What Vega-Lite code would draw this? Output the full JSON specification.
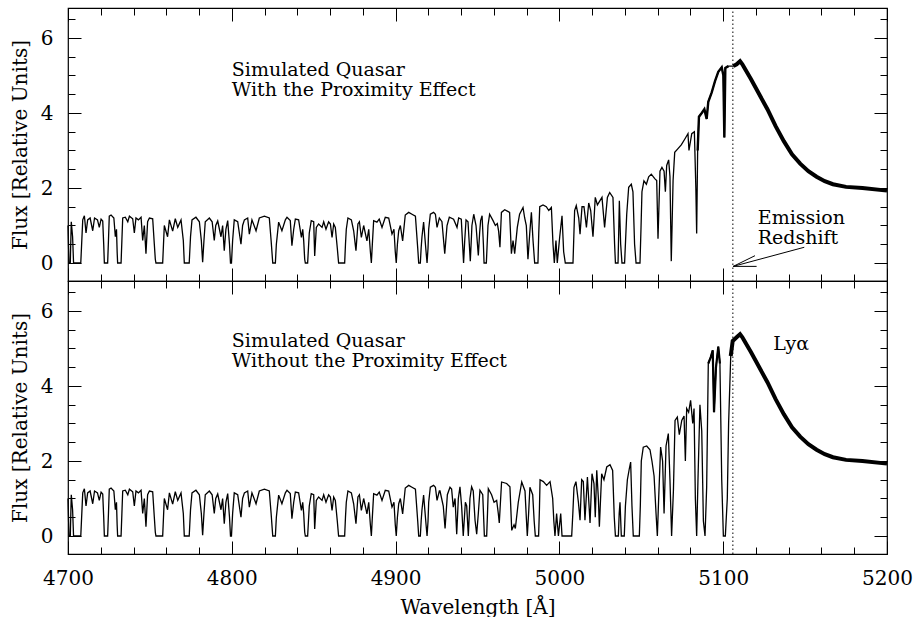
{
"$schema": "https://vega.github.io/schema/vega-lite/v6.json",
"autosize": "none",
"padding": {"left": 68, "top": 8, "right": 847, "bottom": 609},
"background": "white",
"bounds": "flush",
"spacing": 0,
"config": {
 "view": {"stroke": "black", "strokeWidth": 1.2},
 "axis": {"domain": false, "grid": false, "tickColor": "black", "tickWidth": 1, "labelFont": "DejaVu Serif", "labelFontSize": 20, "labelColor": "black", "titleFont": "DejaVu Serif", "titleFontSize": 20, "titleFontWeight": "normal", "titleColor": "black", "labelFlush": false, "labelOverlap": false},
 "text": {"font": "DejaVu Serif", "color": "black"}
},
"datasets": {
 "spec": [
{"p":"s","w":4700.0,"f":1.0},{"p":"s","w":4700.6,"f":0},{"p":"s","w":4701.4,"f":0},{"p":"s","w":4702.0,"f":1.1},{"p":"s","w":4702.8,"f":0.7},{"p":"s","w":4703.4,"f":0},{"p":"s","w":4707.8,"f":0},{"p":"s","w":4709.0,"f":1.15},{"p":"s","w":4710.0,"f":1.26},{"p":"s","w":4711.0,"f":0.8},{"p":"s","w":4712.0,"f":1.15},{"p":"s","w":4713.5,"f":1.2},{"p":"s","w":4715.1,"f":0.86},{"p":"s","w":4716.2,"f":1.2},{"p":"s","w":4718.0,"f":1.15},{"p":"s","w":4719.1,"f":0.95},{"p":"s","w":4720.2,"f":1.17},{"p":"s","w":4721.2,"f":1.12},{"p":"s","w":4721.8,"f":0.5},{"p":"s","w":4722.2,"f":0},{"p":"s","w":4724.2,"f":0},{"p":"s","w":4724.7,"f":0.6},{"p":"s","w":4725.2,"f":1.25},{"p":"s","w":4726.3,"f":1.28},{"p":"s","w":4728.0,"f":1.2},{"p":"s","w":4728.9,"f":0.7},{"p":"s","w":4729.6,"f":0.9},{"p":"s","w":4730.0,"f":0.3},{"p":"s","w":4730.3,"f":0},{"p":"s","w":4732.4,"f":0},{"p":"s","w":4732.9,"f":0.6},{"p":"s","w":4733.4,"f":1.2},{"p":"s","w":4735.0,"f":1.22},{"p":"s","w":4736.5,"f":1.1},{"p":"s","w":4737.5,"f":1.25},{"p":"s","w":4739.5,"f":1.18},{"p":"s","w":4740.5,"f":0.8},{"p":"s","w":4741.5,"f":1.2},{"p":"s","w":4743.0,"f":1.15},{"p":"s","w":4744.6,"f":1.22},{"p":"s","w":4745.6,"f":0.6},{"p":"s","w":4746.6,"f":1.0},{"p":"s","w":4747.6,"f":0.25},{"p":"s","w":4748.6,"f":1.1},{"p":"s","w":4749.7,"f":1.2},{"p":"s","w":4751.7,"f":1.18},{"p":"s","w":4752.7,"f":0.5},{"p":"s","w":4753.3,"f":0.1},{"p":"s","w":4753.7,"f":0},{"p":"s","w":4757.8,"f":0},{"p":"s","w":4758.3,"f":0.5},{"p":"s","w":4758.8,"f":1.0},{"p":"s","w":4760.8,"f":0.7},{"p":"s","w":4761.9,"f":1.15},{"p":"s","w":4763.9,"f":0.85},{"p":"s","w":4765.5,"f":1.18},{"p":"s","w":4767.0,"f":0.95},{"p":"s","w":4769.0,"f":1.15},{"p":"s","w":4770.4,"f":0.6},{"p":"s","w":4771.0,"f":0},{"p":"s","w":4774.0,"f":0},{"p":"s","w":4774.8,"f":0.7},{"p":"s","w":4775.7,"f":1.15},{"p":"s","w":4778.1,"f":1.22},{"p":"s","w":4780.2,"f":1.1},{"p":"s","w":4781.4,"f":0.6},{"p":"s","w":4782.2,"f":0.02},{"p":"s","w":4783.0,"f":0.6},{"p":"s","w":4783.8,"f":1.1},{"p":"s","w":4786.3,"f":1.2},{"p":"s","w":4788.0,"f":1.1},{"p":"s","w":4789.3,"f":0.6},{"p":"s","w":4790.2,"f":1.0},{"p":"s","w":4791.4,"f":1.12},{"p":"s","w":4793.4,"f":0.7},{"p":"s","w":4794.4,"f":1.0},{"p":"s","w":4795.4,"f":0.33},{"p":"s","w":4796.4,"f":0.9},{"p":"s","w":4797.5,"f":1.13},{"p":"s","w":4798.6,"f":0.5},{"p":"s","w":4799.2,"f":0},{"p":"s","w":4799.8,"f":0},{"p":"s","w":4800.5,"f":0.6},{"p":"s","w":4801.5,"f":1.15},{"p":"s","w":4803.6,"f":1.1},{"p":"s","w":4805.6,"f":0.5},{"p":"s","w":4806.6,"f":1.0},{"p":"s","w":4807.7,"f":1.15},{"p":"s","w":4809.7,"f":1.2},{"p":"s","w":4810.7,"f":0.77},{"p":"s","w":4812.3,"f":1.15},{"p":"s","w":4814.8,"f":0.86},{"p":"s","w":4816.8,"f":1.2},{"p":"s","w":4819.9,"f":1.25},{"p":"s","w":4822.9,"f":1.2},{"p":"s","w":4824.0,"f":0.6},{"p":"s","w":4825.0,"f":0},{"p":"s","w":4826.6,"f":0},{"p":"s","w":4827.2,"f":0.5},{"p":"s","w":4828.6,"f":1.09},{"p":"s","w":4830.6,"f":0.86},{"p":"s","w":4832.7,"f":1.15},{"p":"s","w":4833.7,"f":1.22},{"p":"s","w":4835.7,"f":1.13},{"p":"s","w":4836.7,"f":0.46},{"p":"s","w":4837.8,"f":0.9},{"p":"s","w":4838.8,"f":1.17},{"p":"s","w":4840.8,"f":1.15},{"p":"s","w":4842.5,"f":0.68},{"p":"s","w":4843.3,"f":0.9},{"p":"s","w":4843.9,"f":0.59},{"p":"s","w":4844.5,"f":0.1},{"p":"s","w":4844.9,"f":0},{"p":"s","w":4846.3,"f":0},{"p":"s","w":4846.8,"f":0.4},{"p":"s","w":4847.3,"f":0.8},{"p":"s","w":4848.5,"f":1.13},{"p":"s","w":4850.0,"f":1.1},{"p":"s","w":4850.6,"f":0.19},{"p":"s","w":4851.6,"f":0.95},{"p":"s","w":4853.0,"f":1.04},{"p":"s","w":4855.1,"f":0.95},{"p":"s","w":4856.1,"f":1.1},{"p":"s","w":4857.5,"f":0.9},{"p":"s","w":4859.1,"f":1.1},{"p":"s","w":4860.2,"f":1.04},{"p":"s","w":4861.2,"f":0.68},{"p":"s","w":4862.2,"f":1.04},{"p":"s","w":4863.2,"f":0.95},{"p":"s","w":4864.4,"f":0.4},{"p":"s","w":4865.2,"f":0},{"p":"s","w":4868.9,"f":0},{"p":"s","w":4869.4,"f":0.5},{"p":"s","w":4869.9,"f":0.9},{"p":"s","w":4870.9,"f":1.2},{"p":"s","w":4873.0,"f":1.15},{"p":"s","w":4874.4,"f":0.86},{"p":"s","w":4875.8,"f":0.33},{"p":"s","w":4877.0,"f":1.04},{"p":"s","w":4877.9,"f":1.1},{"p":"s","w":4879.1,"f":0.68},{"p":"s","w":4880.5,"f":1.0},{"p":"s","w":4882.5,"f":0.59},{"p":"s","w":4883.6,"f":0.9},{"p":"s","w":4884.6,"f":0.3},{"p":"s","w":4885.2,"f":0},{"p":"s","w":4885.8,"f":0.5},{"p":"s","w":4886.6,"f":1.13},{"p":"s","w":4888.6,"f":1.09},{"p":"s","w":4890.0,"f":1.17},{"p":"s","w":4891.7,"f":0.95},{"p":"s","w":4893.7,"f":1.22},{"p":"s","w":4895.8,"f":1.2},{"p":"s","w":4897.8,"f":0.77},{"p":"s","w":4899.0,"f":0.9},{"p":"s","w":4899.8,"f":0.3},{"p":"s","w":4900.4,"f":0},{"p":"s","w":4901.1,"f":0.5},{"p":"s","w":4901.9,"f":0.86},{"p":"s","w":4902.9,"f":1.0},{"p":"s","w":4904.3,"f":0.59},{"p":"s","w":4905.9,"f":1.28},{"p":"s","w":4908.0,"f":1.35},{"p":"s","w":4910.0,"f":1.3},{"p":"s","w":4912.1,"f":1.25},{"p":"s","w":4913.5,"f":0.4},{"p":"s","w":4914.1,"f":0},{"p":"s","w":4915.1,"f":0},{"p":"s","w":4915.6,"f":0.4},{"p":"s","w":4916.1,"f":0.7},{"p":"s","w":4917.1,"f":1.09},{"p":"s","w":4918.6,"f":0.3},{"p":"s","w":4919.2,"f":0},{"p":"s","w":4919.8,"f":0.4},{"p":"s","w":4920.2,"f":0.9},{"p":"s","w":4921.2,"f":1.3},{"p":"s","w":4923.2,"f":1.35},{"p":"s","w":4924.3,"f":1.3},{"p":"s","w":4925.3,"f":0.95},{"p":"s","w":4926.7,"f":1.2},
{"p":"a","w":4928.3,"f":1.1},{"p":"a","w":4930.0,"f":0.25},{"p":"a","w":4931.4,"f":1.0},{"p":"a","w":4932.8,"f":1.22},{"p":"a","w":4935.4,"f":1.17},{"p":"a","w":4937.5,"f":0.95},{"p":"a","w":4938.5,"f":1.2},{"p":"a","w":4940.1,"f":1.17},{"p":"a","w":4940.9,"f":0.5},{"p":"a","w":4941.5,"f":0},{"p":"a","w":4942.2,"f":0.6},{"p":"a","w":4943.0,"f":1.15},{"p":"a","w":4944.2,"f":1.1},{"p":"a","w":4945.0,"f":0.5},{"p":"a","w":4945.6,"f":0.05},{"p":"a","w":4946.2,"f":0.6},{"p":"a","w":4946.6,"f":1.0},{"p":"a","w":4947.7,"f":1.3},{"p":"a","w":4949.1,"f":1.0},{"p":"a","w":4950.5,"f":0.2},{"p":"a","w":4951.3,"f":0.8},{"p":"a","w":4951.9,"f":1.13},{"p":"a","w":4952.8,"f":1.26},{"p":"a","w":4953.6,"f":0.5},{"p":"a","w":4954.0,"f":0},{"p":"a","w":4955.4,"f":0},{"p":"a","w":4955.9,"f":0.5},{"p":"a","w":4956.4,"f":1.0},{"p":"a","w":4957.4,"f":1.3},{"p":"a","w":4959.5,"f":1.13},{"p":"a","w":4960.9,"f":1.0},{"p":"a","w":4962.1,"f":1.05},{"p":"a","w":4962.9,"f":0.85},{"p":"a","w":4963.7,"f":0.42},{"p":"a","w":4964.6,"f":1.35},{"p":"a","w":4966.6,"f":1.42},{"p":"a","w":4969.6,"f":1.35},{"p":"a","w":4970.7,"f":0.25},{"p":"a","w":4971.7,"f":0.6},{"p":"a","w":4972.7,"f":0.25},{"p":"a","w":4974.3,"f":0.95},{"p":"a","w":4975.7,"f":1.3},{"p":"a","w":4977.8,"f":1.48},{"p":"a","w":4978.8,"f":1.2},{"p":"a","w":4979.8,"f":1.0},{"p":"a","w":4980.8,"f":0.1},{"p":"a","w":4981.9,"f":0.8},{"p":"a","w":4982.9,"f":1.35},{"p":"a","w":4983.9,"f":0.6},{"p":"a","w":4984.9,"f":0},{"p":"a","w":4986.9,"f":0},{"p":"a","w":4987.4,"f":0.8},{"p":"a","w":4988.0,"f":1.5},{"p":"a","w":4990.0,"f":1.55},{"p":"a","w":4992.0,"f":1.5},{"p":"a","w":4993.5,"f":1.4},{"p":"a","w":4995.1,"f":1.48},{"p":"a","w":4996.1,"f":0.5},{"p":"a","w":4996.9,"f":0},{"p":"a","w":4997.9,"f":0.6},{"p":"a","w":4998.7,"f":0},{"p":"a","w":5000.2,"f":0.7},{"p":"a","w":5001.6,"f":1.26},{"p":"a","w":5002.6,"f":0.3},{"p":"a","w":5003.6,"f":0},{"p":"a","w":5008.3,"f":0},{"p":"a","w":5008.8,"f":0.7},{"p":"a","w":5009.3,"f":1.4},{"p":"a","w":5010.3,"f":1.53},{"p":"a","w":5011.8,"f":1.2},{"p":"a","w":5012.6,"f":0.77},{"p":"a","w":5013.8,"f":1.5},{"p":"a","w":5015.0,"f":1.5},{"p":"a","w":5016.5,"f":0.95},{"p":"a","w":5017.9,"f":1.6},{"p":"a","w":5019.1,"f":1.4},{"p":"a","w":5020.5,"f":0.7},{"p":"a","w":5021.9,"f":1.75},{"p":"a","w":5023.2,"f":1.55},{"p":"a","w":5024.6,"f":1.65},{"p":"a","w":5026.0,"f":1.75},{"p":"a","w":5027.6,"f":0.95},{"p":"a","w":5029.3,"f":1.75},{"p":"a","w":5030.7,"f":1.88},{"p":"a","w":5032.7,"f":1.75},{"p":"a","w":5033.7,"f":0.5},{"p":"a","w":5034.2,"f":0},{"p":"a","w":5035.8,"f":0},{"p":"a","w":5036.2,"f":0.8},{"p":"a","w":5036.6,"f":1.66},{"p":"a","w":5037.4,"f":0.5},{"p":"a","w":5038.2,"f":0},{"p":"a","w":5039.8,"f":0},{"p":"a","w":5040.4,"f":0.6},{"p":"a","w":5041.1,"f":1.3},{"p":"a","w":5042.3,"f":2.02},{"p":"a","w":5043.9,"f":2.1},{"p":"a","w":5044.9,"f":1.9},{"p":"a","w":5045.9,"f":0.5},{"p":"a","w":5046.8,"f":0},{"p":"a","w":5049.2,"f":0},{"p":"a","w":5049.8,"f":0.9},{"p":"a","w":5050.4,"f":1.9},{"p":"a","w":5051.6,"f":2.19},{"p":"a","w":5053.1,"f":2.1},{"p":"a","w":5054.5,"f":2.3},{"p":"a","w":5056.1,"f":2.37},{"p":"a","w":5058.2,"f":2.25},{"p":"a","w":5059.4,"f":2.2},{"p":"a","w":5060.2,"f":0.65},{"p":"a","w":5061.4,"f":2.45},{"p":"a","w":5062.6,"f":2.55},{"p":"a","w":5063.9,"f":2.45},{"p":"a","w":5064.7,"f":1.9},{"p":"a","w":5065.5,"f":2.6},{"p":"a","w":5066.7,"f":2.75},{"p":"a","w":5067.5,"f":2.3},{"p":"a","w":5068.3,"f":0.05},{"p":"a","w":5069.4,"f":2.2},{"p":"a","w":5070.4,"f":2.95},{"p":"a","w":5072.4,"f":3.05},{"p":"a","w":5074.4,"f":3.15},{"p":"a","w":5076.5,"f":3.3},{"p":"a","w":5078.5,"f":3.45},{"p":"a","w":5079.1,"f":3.0},{"p":"a","w":5080.8,"f":3.45},{"p":"a","w":5082.4,"f":3.5},{"p":"a","w":5083.3,"f":2.0},{"p":"a","w":5083.8,"f":0.79},{"p":"a","w":5084.4,"f":3.0},{"p":"a","w":5085.2,"f":3.9},{"p":"a","w":5086.9,"f":4.0},{"p":"a","w":5088.5,"f":4.1},{"p":"a","w":5089.9,"f":3.84},{"p":"a","w":5090.9,"f":4.3},{"p":"a","w":5093.0,"f":4.55},{"p":"a","w":5095.0,"f":4.85},{"p":"a","w":5097.0,"f":5.1},{"p":"a","w":5099.1,"f":5.22},{"p":"a","w":5100.1,"f":5.0},{"p":"a","w":5100.7,"f":3.35},{"p":"a","w":5101.3,"f":5.2},{"p":"a","w":5103.2,"f":5.25},{"p":"a","w":5106.2,"f":5.25},{"p":"a","w":5108.2,"f":5.3},{"p":"a","w":5110.3,"f":5.38},{"p":"a","w":5111.7,"f":5.3},
{"p":"b","w":4927.1,"f":1.2},{"p":"b","w":4928.1,"f":1.0},{"p":"b","w":4929.1,"f":0.8},{"p":"b","w":4930.2,"f":0.2},{"p":"b","w":4931.6,"f":1.1},{"p":"b","w":4933.2,"f":1.3},{"p":"b","w":4934.2,"f":1.25},{"p":"b","w":4935.2,"f":0.77},{"p":"b","w":4936.3,"f":1.0},{"p":"b","w":4937.3,"f":0.05},{"p":"b","w":4938.3,"f":1.0},{"p":"b","w":4939.3,"f":1.31},{"p":"b","w":4940.3,"f":0.8},{"p":"b","w":4941.3,"f":0},{"p":"b","w":4942.6,"f":0.9},{"p":"b","w":4943.4,"f":0.8},{"p":"b","w":4944.4,"f":0},{"p":"b","w":4945.4,"f":1.0},{"p":"b","w":4946.4,"f":1.31},{"p":"b","w":4947.4,"f":1.2},{"p":"b","w":4948.5,"f":0.42},{"p":"b","w":4949.5,"f":0.05},{"p":"b","w":4950.5,"f":0.6},{"p":"b","w":4951.5,"f":1.22},{"p":"b","w":4953.2,"f":1.1},{"p":"b","w":4954.2,"f":0},{"p":"b","w":4955.6,"f":0},{"p":"b","w":4956.1,"f":0.6},{"p":"b","w":4956.6,"f":1.26},{"p":"b","w":4958.6,"f":1.1},{"p":"b","w":4960.1,"f":0.9},{"p":"b","w":4961.7,"f":0.95},{"p":"b","w":4962.7,"f":0.6},{"p":"b","w":4963.3,"f":0.35},{"p":"b","w":4964.7,"f":1.44},{"p":"b","w":4967.8,"f":1.4},{"p":"b","w":4969.8,"f":1.31},{"p":"b","w":4970.9,"f":0.15},{"p":"b","w":4972.3,"f":0.3},{"p":"b","w":4973.1,"f":0.2},{"p":"b","w":4974.9,"f":0.9},{"p":"b","w":4977.0,"f":1.44},{"p":"b","w":4979.0,"f":1.2},{"p":"b","w":4979.8,"f":0.5},{"p":"b","w":4980.4,"f":0},{"p":"b","w":4981.2,"f":0.6},{"p":"b","w":4982.0,"f":1.3},{"p":"b","w":4983.7,"f":1.1},{"p":"b","w":4984.6,"f":0.4},{"p":"b","w":4985.3,"f":0},{"p":"b","w":4987.3,"f":0},{"p":"b","w":4987.8,"f":0.7},{"p":"b","w":4988.2,"f":1.5},{"p":"b","w":4990.2,"f":1.45},{"p":"b","w":4992.2,"f":1.35},{"p":"b","w":4994.3,"f":1.45},{"p":"b","w":4995.9,"f":1.0},{"p":"b","w":4996.6,"f":0.4},{"p":"b","w":4997.3,"f":0},{"p":"b","w":4998.3,"f":0.6},{"p":"b","w":4999.4,"f":0},{"p":"b","w":5000.8,"f":0.6},{"p":"b","w":5001.6,"f":0},{"p":"b","w":5007.5,"f":0},{"p":"b","w":5008.2,"f":0.6},{"p":"b","w":5008.9,"f":1.3},{"p":"b","w":5010.1,"f":1.45},{"p":"b","w":5011.6,"f":0.9},{"p":"b","w":5012.6,"f":0.42},{"p":"b","w":5013.6,"f":1.5},{"p":"b","w":5014.6,"f":1.45},{"p":"b","w":5015.6,"f":0.42},{"p":"b","w":5017.1,"f":1.57},{"p":"b","w":5018.7,"f":0.35},{"p":"b","w":5019.9,"f":1.66},{"p":"b","w":5021.1,"f":1.4},{"p":"b","w":5021.9,"f":0.5},{"p":"b","w":5022.8,"f":1.75},{"p":"b","w":5023.8,"f":1.0},{"p":"b","w":5024.4,"f":0.25},{"p":"b","w":5025.8,"f":1.66},{"p":"b","w":5027.2,"f":1.5},{"p":"b","w":5028.9,"f":1.84},{"p":"b","w":5030.9,"f":1.9},{"p":"b","w":5032.5,"f":1.75},{"p":"b","w":5033.5,"f":0.5},{"p":"b","w":5034.2,"f":0},{"p":"b","w":5036.0,"f":0},{"p":"b","w":5036.5,"f":0.6},{"p":"b","w":5037.0,"f":0.9},{"p":"b","w":5037.8,"f":0},{"p":"b","w":5039.6,"f":0},{"p":"b","w":5040.3,"f":0.8},{"p":"b","w":5041.5,"f":1.5},{"p":"b","w":5042.7,"f":1.8},{"p":"b","w":5043.5,"f":1.97},{"p":"b","w":5044.3,"f":0.8},{"p":"b","w":5045.1,"f":0},{"p":"b","w":5048.8,"f":0},{"p":"b","w":5049.4,"f":0.8},{"p":"b","w":5050.0,"f":2.0},{"p":"b","w":5051.2,"f":2.37},{"p":"b","w":5053.3,"f":2.4},{"p":"b","w":5055.3,"f":2.3},{"p":"b","w":5056.5,"f":2.0},{"p":"b","w":5057.8,"f":1.6},{"p":"b","w":5059.0,"f":0.6},{"p":"b","w":5059.8,"f":0},{"p":"b","w":5060.6,"f":1.0},{"p":"b","w":5061.8,"f":2.37},{"p":"b","w":5063.0,"f":2.0},{"p":"b","w":5063.9,"f":0.6},{"p":"b","w":5065.1,"f":2.4},{"p":"b","w":5066.5,"f":2.73},{"p":"b","w":5067.5,"f":1.5},{"p":"b","w":5068.5,"f":0},{"p":"b","w":5069.6,"f":1.2},{"p":"b","w":5070.6,"f":3.08},{"p":"b","w":5072.0,"f":3.17},{"p":"b","w":5073.2,"f":2.7},{"p":"b","w":5074.7,"f":3.08},{"p":"b","w":5076.1,"f":3.2},{"p":"b","w":5076.9,"f":2.0},{"p":"b","w":5077.7,"f":3.4},{"p":"b","w":5078.9,"f":3.3},{"p":"b","w":5080.1,"f":3.62},{"p":"b","w":5081.4,"f":3.0},{"p":"b","w":5082.2,"f":3.4},{"p":"b","w":5083.0,"f":1.0},{"p":"b","w":5083.8,"f":0},{"p":"b","w":5084.6,"f":1.5},{"p":"b","w":5085.8,"f":3.5},{"p":"b","w":5086.9,"f":2.8},{"p":"b","w":5087.9,"f":0.4},{"p":"b","w":5088.9,"f":0},{"p":"b","w":5089.9,"f":1.3},{"p":"b","w":5090.9,"f":4.6},{"p":"b","w":5092.4,"f":4.77},{"p":"b","w":5093.6,"f":4.95},{"p":"b","w":5094.4,"f":3.3},{"p":"b","w":5095.6,"f":4.5},{"p":"b","w":5097.0,"f":5.05},{"p":"b","w":5098.0,"f":4.6},{"p":"b","w":5099.1,"f":1.5},{"p":"b","w":5100.1,"f":0},{"p":"b","w":5101.3,"f":0},{"p":"b","w":5102.5,"f":1.0},{"p":"b","w":5103.3,"f":3.0},{"p":"b","w":5104.6,"f":4.8},{"p":"b","w":5105.8,"f":5.2},{"p":"b","w":5108.2,"f":5.3},{"p":"b","w":5110.3,"f":5.38},{"p":"b","w":5111.7,"f":5.3},
{"p":"s","w":5113.0,"f":5.2},{"p":"s","w":5117.0,"f":4.9},{"p":"s","w":5122.0,"f":4.5},{"p":"s","w":5127.0,"f":4.1},{"p":"s","w":5132.0,"f":3.65},{"p":"s","w":5137.0,"f":3.25},{"p":"s","w":5142.0,"f":2.9},{"p":"s","w":5147.0,"f":2.65},{"p":"s","w":5152.0,"f":2.45},{"p":"s","w":5157.0,"f":2.3},{"p":"s","w":5162.0,"f":2.18},{"p":"s","w":5167.0,"f":2.1},{"p":"s","w":5175.0,"f":2.03},{"p":"s","w":5185.0,"f":2.0},{"p":"s","w":5200.0,"f":1.93}
 ],
 "ann": [
  {"p":"a","w":4800,"f":4.99,"t":"Simulated Quasar"},
  {"p":"a","w":4800,"f":4.46,"t":"With the Proximity Effect"},
  {"p":"a","w":5121.1,"f":1.03,"t":"Emission"},
  {"p":"a","w":5121.1,"f":0.5,"t":"Redshift"},
  {"p":"b","w":4800,"f":5.03,"t":"Simulated Quasar"},
  {"p":"b","w":4800,"f":4.5,"t":"Without the Proximity Effect"},
  {"p":"b","w":5130.6,"f":4.96,"t":"Lyα"}
 ],
 "arrow": [
  {"w":5149.5,"f":0.42,"w2":5106.1,"f2":-0.09},
  {"w":5106.1,"f":-0.09,"w2":5119.4,"f2":0.195},
  {"w":5106.1,"f":-0.09,"w2":5120.4,"f2":-0.09}
 ],
 "vline": [{"w":5105.9,"lo":-0.48,"hi":6.8}]
},
"vconcat": [
 {
  "width": 819, "height": 273,
  "resolve": {"axis": {"x": "independent", "y": "independent"}},
  "layer": [
   {
    "data": {"name": "spec"},
    "transform": [{"filter": "datum.p != 'b'"}],
    "mark": {"type": "line", "color": "black", "strokeWidth": 1.3},
    "encoding": {
     "x": {"field": "w", "type": "quantitative", "scale": {"domain": [4700, 5200], "nice": false, "zero": false},
           "axis": {"orient": "bottom", "values": [4700,4800,4900,5000,5100,5200], "tickSize": -13, "labels": false, "title": null}},
     "y": {"field": "f", "type": "quantitative", "scale": {"domain": [-0.48, 6.8], "nice": false, "zero": false},
           "axis": {"orient": "left", "values": [0,2,4,6], "tickSize": -13, "labelPadding": 28, "format": "d", "title": "Flux [Relative Units]", "titlePadding": 10}}
    }
   },
   {
    "data": {"name": "spec"},
    "transform": [{"filter": "datum.p != 'b' && datum.w >= 5104"}],
    "mark": {"type": "line", "color": "black", "strokeWidth": 4},
    "encoding": {
     "x": {"field": "w", "type": "quantitative", "scale": {"domain": [4700, 5200], "nice": false, "zero": false},
           "axis": {"orient": "top", "values": [4700,4800,4900,5000,5100,5200], "tickSize": -13, "labels": false, "title": null}},
     "y": {"field": "f", "type": "quantitative", "scale": {"domain": [-0.48, 6.8], "nice": false, "zero": false},
           "axis": {"orient": "right", "values": [0,2,4,6], "tickSize": -13, "labels": false, "title": null}}
    }
   },
   {
    "data": {"name": "spec"},
    "transform": [{"filter": "datum.p != 'b' && datum.w >= 5084.4 && datum.w <= 5104"}],
    "mark": {"type": "line", "color": "black", "strokeWidth": 2.4},
    "encoding": {
     "x": {"field": "w", "type": "quantitative", "scale": {"domain": [4700, 5200], "nice": false, "zero": false}, "axis": null},
     "y": {"field": "f", "type": "quantitative", "scale": {"domain": [-0.48, 6.8], "nice": false, "zero": false}, "axis": null}
    }
   },
   {
    "data": {"name": "ann"},
    "transform": [{"filter": "datum.p == 'a'"}],
    "mark": {"type": "text", "align": "left", "baseline": "alphabetic", "fontSize": 19, "color": "black"},
    "encoding": {
     "x": {"field": "w", "type": "quantitative", "scale": {"domain": [4700, 5200], "nice": false, "zero": false},
           "axis": {"orient": "bottom", "values": [4700,4720,4740,4760,4780,4800,4820,4840,4860,4880,4900,4920,4940,4960,4980,5000,5020,5040,5060,5080,5100,5120,5140,5160,5180,5200], "tickSize": -7, "labels": false, "title": null}},
     "y": {"field": "f", "type": "quantitative", "scale": {"domain": [-0.48, 6.8], "nice": false, "zero": false},
           "axis": {"orient": "left", "values": [0,0.5,1,1.5,2,2.5,3,3.5,4,4.5,5,5.5,6,6.5], "tickSize": -7, "labels": false, "title": null}},
     "text": {"field": "t"}
    }
   },
   {
    "data": {"name": "vline"},
    "mark": {"type": "rule", "color": "black", "strokeWidth": 1, "strokeDash": [1.5, 2.5]},
    "encoding": {
     "x": {"field": "w", "type": "quantitative", "scale": {"domain": [4700, 5200], "nice": false, "zero": false},
           "axis": {"orient": "top", "values": [4700,4720,4740,4760,4780,4800,4820,4840,4860,4880,4900,4920,4940,4960,4980,5000,5020,5040,5060,5080,5100,5120,5140,5160,5180,5200], "tickSize": -7, "labels": false, "title": null}},
     "y": {"field": "lo", "type": "quantitative", "scale": {"domain": [-0.48, 6.8], "nice": false, "zero": false},
           "axis": {"orient": "right", "values": [0,0.5,1,1.5,2,2.5,3,3.5,4,4.5,5,5.5,6,6.5], "tickSize": -7, "labels": false, "title": null}},
     "y2": {"field": "hi"}
    }
   },
   {
    "data": {"name": "arrow"},
    "mark": {"type": "rule", "color": "black", "strokeWidth": 1},
    "encoding": {
     "x": {"field": "w", "type": "quantitative", "scale": {"domain": [4700, 5200], "nice": false, "zero": false}, "axis": null},
     "y": {"field": "f", "type": "quantitative", "scale": {"domain": [-0.48, 6.8], "nice": false, "zero": false}, "axis": null},
     "x2": {"field": "w2"},
     "y2": {"field": "f2"}
    }
   }
  ]
 },
 {
  "width": 819, "height": 273,
  "resolve": {"axis": {"x": "independent", "y": "independent"}},
  "layer": [
   {
    "data": {"name": "spec"},
    "transform": [{"filter": "datum.p != 'a'"}],
    "mark": {"type": "line", "color": "black", "strokeWidth": 1.3},
    "encoding": {
     "x": {"field": "w", "type": "quantitative", "scale": {"domain": [4700, 5200], "nice": false, "zero": false},
           "axis": {"orient": "bottom", "values": [4700,4800,4900,5000,5100,5200], "tickSize": -13, "labelPadding": 27, "format": "d", "title": "Wavelength [Å]", "titlePadding": 9}},
     "y": {"field": "f", "type": "quantitative", "scale": {"domain": [-0.48, 6.8], "nice": false, "zero": false},
           "axis": {"orient": "left", "values": [0,2,4,6], "tickSize": -13, "labelPadding": 28, "format": "d", "title": "Flux [Relative Units]", "titlePadding": 10}}
    }
   },
   {
    "data": {"name": "spec"},
    "transform": [{"filter": "datum.p != 'a' && datum.w >= 5104.6"}],
    "mark": {"type": "line", "color": "black", "strokeWidth": 4},
    "encoding": {
     "x": {"field": "w", "type": "quantitative", "scale": {"domain": [4700, 5200], "nice": false, "zero": false},
           "axis": {"orient": "top", "values": [4700,4800,4900,5000,5100,5200], "tickSize": -13, "labels": false, "title": null}},
     "y": {"field": "f", "type": "quantitative", "scale": {"domain": [-0.48, 6.8], "nice": false, "zero": false},
           "axis": {"orient": "right", "values": [0,2,4,6], "tickSize": -13, "labels": false, "title": null}}
    }
   },
   {
    "data": {"name": "spec"},
    "transform": [{"filter": "datum.p != 'a' && datum.w >= 5090.9 && datum.w <= 5098"}],
    "mark": {"type": "line", "color": "black", "strokeWidth": 2.2},
    "encoding": {
     "x": {"field": "w", "type": "quantitative", "scale": {"domain": [4700, 5200], "nice": false, "zero": false}, "axis": null},
     "y": {"field": "f", "type": "quantitative", "scale": {"domain": [-0.48, 6.8], "nice": false, "zero": false}, "axis": null}
    }
   },
   {
    "data": {"name": "ann"},
    "transform": [{"filter": "datum.p == 'b'"}],
    "mark": {"type": "text", "align": "left", "baseline": "alphabetic", "fontSize": 19, "color": "black"},
    "encoding": {
     "x": {"field": "w", "type": "quantitative", "scale": {"domain": [4700, 5200], "nice": false, "zero": false},
           "axis": {"orient": "bottom", "values": [4700,4720,4740,4760,4780,4800,4820,4840,4860,4880,4900,4920,4940,4960,4980,5000,5020,5040,5060,5080,5100,5120,5140,5160,5180,5200], "tickSize": -7, "labels": false, "title": null}},
     "y": {"field": "f", "type": "quantitative", "scale": {"domain": [-0.48, 6.8], "nice": false, "zero": false},
           "axis": {"orient": "left", "values": [0,0.5,1,1.5,2,2.5,3,3.5,4,4.5,5,5.5,6,6.5], "tickSize": -7, "labels": false, "title": null}},
     "text": {"field": "t"}
    }
   },
   {
    "data": {"name": "vline"},
    "mark": {"type": "rule", "color": "black", "strokeWidth": 1, "strokeDash": [1.5, 2.5]},
    "encoding": {
     "x": {"field": "w", "type": "quantitative", "scale": {"domain": [4700, 5200], "nice": false, "zero": false},
           "axis": {"orient": "top", "values": [4700,4720,4740,4760,4780,4800,4820,4840,4860,4880,4900,4920,4940,4960,4980,5000,5020,5040,5060,5080,5100,5120,5140,5160,5180,5200], "tickSize": -7, "labels": false, "title": null}},
     "y": {"field": "lo", "type": "quantitative", "scale": {"domain": [-0.48, 6.8], "nice": false, "zero": false},
           "axis": {"orient": "right", "values": [0,0.5,1,1.5,2,2.5,3,3.5,4,4.5,5,5.5,6,6.5], "tickSize": -7, "labels": false, "title": null}},
     "y2": {"field": "hi"}
    }
   }
  ]
 }
]
}
